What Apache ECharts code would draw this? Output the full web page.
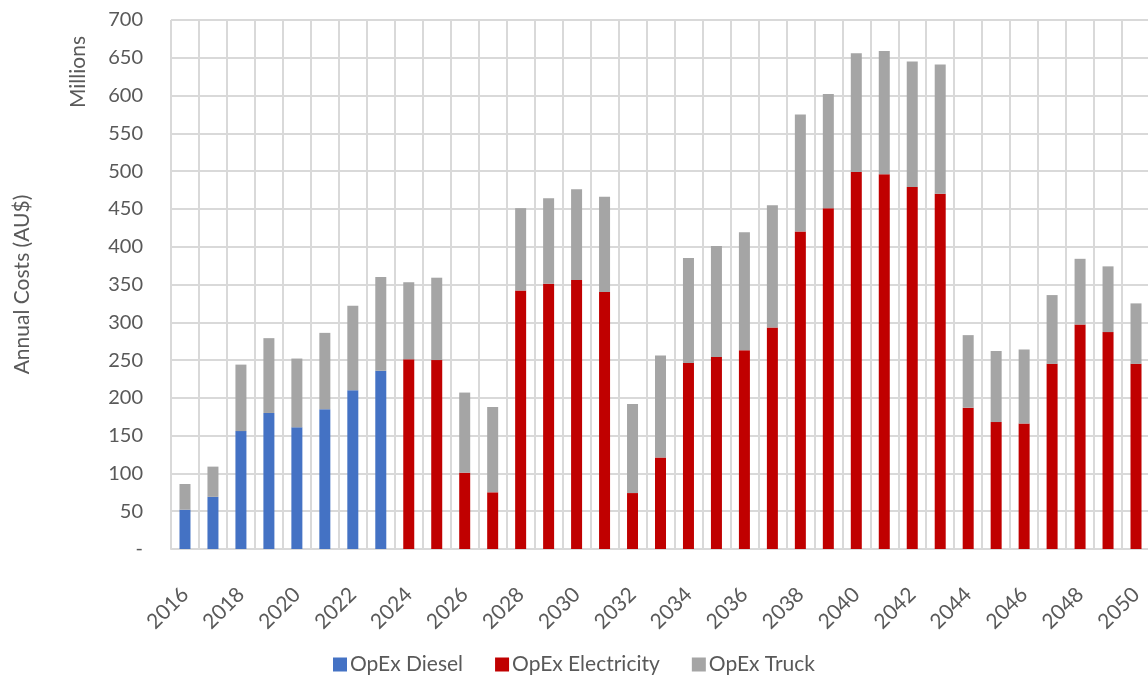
<!DOCTYPE html>
<html>
<head>
<meta charset="utf-8">
<script src="https://cdn.jsdelivr.net/npm/echarts@6/dist/echarts.min.js"></script>
<style>html,body{margin:0;padding:0;background:#fff}#c{width:1148px;height:675px}</style>
</head>
<body>
<div id="c"></div>
<script>
const years = [];
for (let y = 2016; y <= 2050; y++) years.push(String(y));
const yTickLabels = ['-', '50', '100', '150', '200', '250', '300', '350', '400', '450', '500', '550', '600', '650', '700'];
// OpEx Diesel, 2016-2023
const opexDiesel = [52, 69, 156, 180, 161, 185, 210, 236];
// OpEx Electricity, 2024-2050
const opexElectricity = [251, 250, 101, 75, 342, 351, 356, 340, 74, 121, 246, 254, 263, 293, 420, 451, 499, 496, 479, 470, 187, 168, 166, 245, 297, 287, 245];
// OpEx Truck, 2016-2050
const opexTruck = [34, 40, 88, 99, 91, 101, 112, 124, 102, 109, 106, 113, 109, 113, 120, 126, 118, 135, 139, 147, 156, 162, 155, 151, 157, 163, 166, 171, 96, 94, 98, 91, 87, 87, 80];

const dieselFull = years.map((_, i) => i < opexDiesel.length ? opexDiesel[i] : null);
const elecFull = years.map((_, i) => i >= opexDiesel.length ? opexElectricity[i - opexDiesel.length] : null);

const font = 'Lato, "Open Sans", sans-serif';
const txt = '#595959';
const chart = echarts.init(document.getElementById('c'), null, {renderer: 'canvas'});
chart.setOption({
  animation: false,
  textStyle: {fontFamily: font},
  grid: {left: 171, right: -2, top: 20, bottom: 126, containLabel: false, outerBoundsMode: 'none'},
  legend: {
    top: 649, left: 'center',
    itemWidth: 14, itemHeight: 14, itemGap: 32,
    icon: 'rect',
    textStyle: {fontFamily: font, fontSize: 21, color: txt, padding: [0, 0, 0, -2]},
    data: ['OpEx Diesel', 'OpEx Electricity', 'OpEx Truck']
  },
  xAxis: {
    type: 'category', data: years,
    axisLine: {lineStyle: {color: '#D9D9D9', width: 2}},
    axisTick: {show: false},
    splitLine: {show: true, interval: 0, lineStyle: {color: '#D9D9D9', width: 2}},
    axisLabel: {interval: 1, rotate: 45, margin: 42, fontSize: 21, color: txt, fontFamily: font}
  },
  yAxis: {
    type: 'value', min: 0, max: 700, interval: 50,
    name: 'Annual Costs (AU$)', nameLocation: 'middle', nameRotate: 90, nameGap: 138,
    nameTextStyle: {fontSize: 21, color: txt, fontFamily: font},
    axisLine: {show: false}, axisTick: {show: false},
    splitLine: {lineStyle: {color: '#D9D9D9', width: 2}},
    axisLabel: {margin: 28, fontSize: 20, color: txt, fontFamily: font,
      formatter: (v) => yTickLabels[Math.round(v / 50)]}
  },
  graphic: [{
    type: 'text', x: 78, y: 72, rotation: Math.PI / 2,
    style: {text: 'Millions', fill: txt, font: '21px ' + font, align: 'center', verticalAlign: 'middle'}
  }],
  series: [
    {name: 'OpEx Diesel', type: 'bar', stack: 'a', data: dieselFull, barWidth: 11,
      itemStyle: {color: '#4472C4'}},
    {name: 'OpEx Electricity', type: 'bar', stack: 'a', data: elecFull, barWidth: 11,
      itemStyle: {color: '#C00000'}},
    {name: 'OpEx Truck', type: 'bar', stack: 'a', data: opexTruck, barWidth: 11,
      itemStyle: {color: '#A5A5A5'}}
  ]
});
</script>
</body>
</html>
